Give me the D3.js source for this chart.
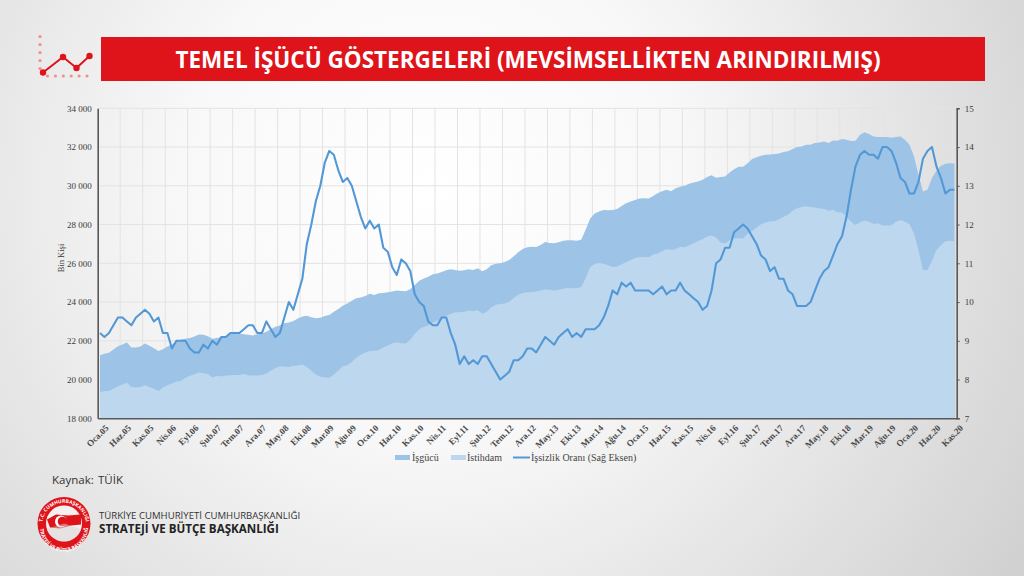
<!DOCTYPE html>
<html>
<head>
<meta charset="utf-8">
<script src="https://cdn.jsdelivr.net/npm/d3@7"></script>
<style>
  html, body { margin: 0; padding: 0; background: #e6e6e6; }
  svg { display: block; }
  .tick text { font-family: "Liberation Serif", serif; font-size: 9px; fill: #3a3a3a; }
</style>
</head>
<body>
<div id="chart"></div>
<script>
// ay kisaltmalari ve yillar
const aylar = ["Oca", "Şub", "Mar", "Nis", "May", "Haz", "Tem", "Ağu", "Eyl", "Eki", "Kas", "Ara"];
const yillar = ["05", "06", "07", "08", "09", "10", "11", "12", "13", "14", "15", "16", "17", "18", "19", "20"];

const xEtiketler = ["Oca.05", "Haz.05", "Kas.05", "Nis.06", "Eyl.06", "Şub.07", "Tem.07", "Ara.07", "May.08", "Eki.08",
  "Mar.09", "Ağu.09", "Oca.10", "Haz.10", "Kas.10", "Nis.11", "Eyl.11", "Şub.12", "Tem.12", "Ara.12",
  "May.13", "Eki.13", "Mar.14", "Ağu.14", "Oca.15", "Haz.15", "Kas.15", "Nis.16", "Eyl.16", "Şub.17",
  "Tem.17", "Ara.17", "May.18", "Eki.18", "Mar.19", "Ağu.19", "Oca.20", "Haz.20", "Kas.20"];

const solTikler = [18000, 20000, 22000, 24000, 26000, 28000, 30000, 32000, 34000];
const sagTikler = [7, 8, 9, 10, 11, 12, 13, 14, 15];

// bin kisi
const isgucu = [21260, 21330, 21380, 21550, 21720, 21810, 21910, 21655, 21655, 21700, 21860, 21740, 21620, 21470, 21570, 21700,
  21810, 21980, 22050, 22100, 22150, 22220, 22330, 22310, 22240, 22100, 22150, 22200, 22240, 22360, 22400, 22380,
  22340, 22310, 22280, 22340, 22380, 22465, 22590, 22720, 22790, 22900, 22950, 23020, 23150, 23260, 23290, 23220,
  23170, 23190, 23280, 23330, 23500, 23640, 23810, 23930, 24070, 24190, 24240, 24310, 24430, 24370, 24450, 24470,
  24500, 24540, 24590, 24570, 24555, 24660, 24880, 25100, 25210, 25310, 25430, 25480, 25550, 25640, 25690, 25655,
  25620, 25640, 25690, 25655, 25740, 25590, 25690, 25900, 25980, 26000, 26070, 26170, 26360, 26570, 26740, 26830,
  26860, 26845, 26950, 27100, 27050, 27030, 27090, 27160, 27190, 27190, 27160, 27220, 27730, 28310, 28570, 28680,
  28750, 28740, 28750, 28800, 28960, 29100, 29190, 29270, 29340, 29360, 29340, 29480, 29620, 29720, 29790, 29720,
  29880, 29950, 30000, 30100, 30170, 30220, 30310, 30450, 30550, 30410, 30450, 30480, 30690, 30860, 30980, 30980,
  31170, 31380, 31480, 31550, 31600, 31620, 31640, 31670, 31740, 31780, 31900, 32000, 32030, 32120, 32120, 32210,
  32240, 32290, 32210, 32340, 32330, 32410, 32380, 32310, 32330, 32640, 32760, 32670, 32550, 32520, 32520, 32520,
  32480, 32520, 32550, 32380, 32120, 31520, 30570, 29710, 29790, 30400, 30780, 31030, 31140, 31170, 31150];

const istihdam = [19330, 19410, 19410, 19530, 19650, 19740, 19840, 19620, 19590, 19620, 19710, 19620, 19530, 19410, 19590, 19710,
  19790, 19900, 19930, 20090, 20190, 20280, 20360, 20330, 20290, 20100, 20190, 20160, 20210, 20220, 20240, 20240,
  20290, 20220, 20210, 20210, 20240, 20310, 20450, 20600, 20670, 20670, 20650, 20710, 20720, 20780, 20650, 20450,
  20260, 20140, 20100, 20090, 20260, 20470, 20690, 20740, 20910, 21120, 21280, 21400, 21480, 21470, 21530, 21660,
  21760, 21880, 21930, 21880, 21860, 22050, 22360, 22600, 22720, 22790, 22950, 23050, 23140, 23290, 23400, 23470,
  23480, 23500, 23570, 23520, 23590, 23400, 23500, 23720, 23860, 23900, 23930, 24020, 24210, 24380, 24470, 24500,
  24520, 24550, 24590, 24650, 24640, 24600, 24640, 24690, 24720, 24710, 24710, 24780, 25240, 25810, 25970, 26020,
  25980, 25900, 25810, 25830, 25950, 26070, 26170, 26280, 26330, 26330, 26310, 26450, 26500, 26620, 26740, 26690,
  26740, 26860, 26830, 26930, 27030, 27150, 27240, 27380, 27430, 27330, 27070, 27020, 27190, 27280, 27290, 27280,
  27530, 27670, 27840, 28020, 28100, 28170, 28170, 28280, 28400, 28500, 28710, 28840, 28910, 28950, 28910, 28880,
  28830, 28810, 28710, 28760, 28640, 28620, 28410, 28150, 27980, 28120, 28210, 28150, 28030, 28070, 27950, 27950,
  27970, 28150, 28240, 28140, 28020, 27550, 26690, 25660, 25660, 26120, 26690, 26950, 27140, 27160, 27140];

// yuzde
const issizlik = [9.2, 9.1, 9.2, 9.4, 9.6, 9.6, 9.5, 9.4, 9.6, 9.7, 9.8, 9.7, 9.5, 9.6, 9.2, 9.2,
  8.8, 9.0, 9.0, 9.0, 8.8, 8.7, 8.7, 8.9, 8.8, 9.0, 8.9, 9.1, 9.1, 9.2, 9.2, 9.2,
  9.3, 9.4, 9.4, 9.2, 9.2, 9.5, 9.3, 9.1, 9.2, 9.6, 10.0, 9.8, 10.2, 10.6, 11.5, 12.0,
  12.6, 13.0, 13.6, 13.9, 13.8, 13.4, 13.1, 13.2, 13.0, 12.6, 12.2, 11.9, 12.1, 11.9, 12.0, 11.4,
  11.3, 10.9, 10.7, 11.1, 11.0, 10.8, 10.2, 10.0, 9.9, 9.5, 9.4, 9.4, 9.6, 9.6, 9.2, 8.9,
  8.4, 8.6, 8.4, 8.5, 8.4, 8.6, 8.6, 8.4, 8.2, 8.0, 8.1, 8.2, 8.5, 8.5, 8.6, 8.8,
  8.8, 8.7, 8.9, 9.1, 9.0, 8.9, 9.1, 9.2, 9.3, 9.1, 9.2, 9.1, 9.3, 9.3, 9.3, 9.4,
  9.6, 9.9, 10.3, 10.2, 10.5, 10.4, 10.5, 10.3, 10.3, 10.3, 10.3, 10.2, 10.3, 10.4, 10.2, 10.3,
  10.3, 10.5, 10.3, 10.2, 10.1, 10.0, 9.8, 9.9, 10.3, 11.0, 11.1, 11.4, 11.4, 11.8, 11.9, 12.0,
  11.9, 11.7, 11.5, 11.2, 11.1, 10.8, 10.9, 10.6, 10.6, 10.3, 10.2, 9.9, 9.9, 9.9, 10.0, 10.3,
  10.6, 10.8, 10.9, 11.2, 11.5, 11.7, 12.2, 12.9, 13.5, 13.8, 13.9, 13.8, 13.8, 13.7, 14.0, 14.0,
  13.9, 13.6, 13.2, 13.1, 12.8, 12.8, 13.1, 13.7, 13.9, 14.0, 13.5, 13.2, 12.8, 12.9, 12.9];

const kategoriler = [];
yillar.forEach((yil) => aylar.forEach((ay) => kategoriler.push(ay + "." + yil)));
kategoriler.length = isgucu.length;   // Kas.20 de bitiyor

const W = 1024, H = 576;
const plot = { left: 97.7, right: 956.7, top: 108.3, bottom: 418.3 };

const svg = d3.select("#chart").append("svg").attr("width", W).attr("height", H);

/*------------------ arka plan ------------------*/
const defs = svg.append("defs");
const bg = defs.append("radialGradient").attr("id", "bg")
  .attr("gradientUnits", "userSpaceOnUse")
  .attr("cx", 430).attr("cy", 190).attr("r", 720);
bg.append("stop").attr("offset", "0%").attr("stop-color", "#ffffff");
bg.append("stop").attr("offset", "35%").attr("stop-color", "#f8f8f8");
bg.append("stop").attr("offset", "100%").attr("stop-color", "#cfcfcf");
svg.append("rect").attr("width", W).attr("height", H).attr("fill", "url(#bg)");

/*------------------ scales ------------------*/
const x = d3.scaleBand().domain(kategoriler).range([plot.left, plot.right]);
const yL = d3.scaleLinear().domain([18000, 34000]).range([plot.bottom, plot.top]);
const yR = d3.scaleLinear().domain([7, 15]).range([plot.bottom, plot.top]);

/*------------------ grid ------------------*/
const grid = svg.append("g").attr("stroke", "#e3e3e3").attr("stroke-width", 1);
grid.selectAll("line.h").data(solTikler.slice(1)).join("line").attr("class", "h")
  .attr("x1", plot.left).attr("x2", plot.right)
  .attr("y1", (d) => yL(d)).attr("y2", (d) => yL(d));
grid.selectAll("line.v").data(xEtiketler.slice(1)).join("line").attr("class", "v")
  .attr("x1", (d) => x(d)).attr("x2", (d) => x(d))
  .attr("y1", plot.top).attr("y2", plot.bottom);

/*------------------ alanlar ve cizgi ------------------*/
const alan = d3.area()
  .x((d, i) => x(kategoriler[i]) + x.bandwidth() / 2)
  .y0(plot.bottom)
  .y1((d) => yL(d));

svg.append("path").datum(isgucu).attr("fill", "#9dc3e6").attr("d", alan);
svg.append("path").datum(istihdam).attr("fill", "#bdd7ee").attr("d", alan);

const cizgi = d3.line()
  .x((d, i) => x(kategoriler[i]) + x.bandwidth() / 2)
  .y((d) => yR(d));

svg.append("path").datum(issizlik)
  .attr("fill", "none").attr("stroke", "#5398d6").attr("stroke-width", 2.1)
  .attr("stroke-linejoin", "round").attr("d", cizgi);

/*------------------ eksenler ------------------*/
const solEksen = d3.axisLeft(yL).tickValues(solTikler).tickSize(0).tickPadding(6)
  .tickFormat((d) => d3.format(",")(d).replace(",", " "));
const sagEksen = d3.axisRight(yR).tickValues(sagTikler).tickSize(3).tickPadding(5);
const altEksen = d3.axisBottom(x).tickValues(xEtiketler).tickSize(0);

const gL = svg.append("g").attr("transform", `translate(${plot.left},0)`).call(solEksen);
const gR = svg.append("g").attr("transform", `translate(${plot.right},0)`).call(sagEksen);
const gB = svg.append("g").attr("transform", `translate(0,${plot.bottom})`).call(altEksen);

gL.select(".domain").attr("stroke", "#595959").attr("stroke-width", 1.6);
gR.select(".domain").attr("stroke", "#595959").attr("stroke-width", 1.6);
gR.selectAll(".tick line").attr("stroke", "#595959");
gB.select(".domain").attr("stroke", "#595959").attr("stroke-width", 1.6);
gB.selectAll(".tick text")
  .attr("text-anchor", "end")
  .attr("transform", "translate(4,5) rotate(-45)")
  .attr("dy", "0.5em")
  .style("font-weight", "bold")
  .style("fill", "#4a4a4a");

svg.append("text")
  .attr("transform", "translate(64,258) rotate(-90)")
  .attr("text-anchor", "middle")
  .attr("font-family", "Liberation Serif, serif").attr("font-size", 8.5).attr("fill", "#3a3a3a")
  .text("Bin Kişi");

/*------------------ legend ------------------*/
const legend = svg.append("g").attr("font-family", "Liberation Serif, serif")
  .attr("font-size", 10).attr("fill", "#444");
legend.append("rect").attr("x", 395).attr("y", 455).attr("width", 15).attr("height", 5).attr("fill", "#9dc3e6");
legend.append("text").attr("x", 412).attr("y", 461).text("İşgücü");
legend.append("rect").attr("x", 451).attr("y", 455).attr("width", 15).attr("height", 5).attr("fill", "#bdd7ee");
legend.append("text").attr("x", 467).attr("y", 461).text("İstihdam");
legend.append("line").attr("x1", 513).attr("x2", 530).attr("y1", 457.5).attr("y2", 457.5)
  .attr("stroke", "#5398d6").attr("stroke-width", 2);
legend.append("text").attr("x", 531).attr("y", 461).text("İşsizlik Oranı (Sağ Eksen)");

/*------------------ baslik ------------------*/
svg.append("rect").attr("x", 101).attr("y", 37).attr("width", 884).attr("height", 44).attr("fill", "#df131a");
svg.append("text").attr("x", 528).attr("y", 68).attr("text-anchor", "middle")
  .attr("font-family", "Open Sans, sans-serif").attr("font-weight", 700).attr("font-size", 22.5)
  .attr("fill", "#fff")
  .text("TEMEL İŞÜCÜ GÖSTERGELERİ (MEVSİMSELLİKTEN ARINDIRILMIŞ)");

/*------------------ ikon ------------------*/
const ikon = svg.append("g");
ikon.selectAll("circle.vd").data([0, 1, 2, 3, 4]).join("circle").attr("class", "vd")
  .attr("cx", 40).attr("cy", (d) => 36.5 + d * 8).attr("r", 1.6).attr("fill", "#ee8f92");
ikon.selectAll("circle.hd").data([0, 1, 2, 3, 4, 5]).join("circle").attr("class", "hd")
  .attr("cx", (d) => 47.5 + d * 7.9).attr("cy", 76).attr("r", 1.6).attr("fill", "#ee8f92");
const ikonNoktalar = [[43, 72.5], [63, 57], [76.5, 68], [89.5, 56]];
ikon.append("path").attr("d", d3.line()(ikonNoktalar)).attr("fill", "none")
  .attr("stroke", "#df131a").attr("stroke-width", 2);
ikon.selectAll("circle.pt").data(ikonNoktalar).join("circle").attr("class", "pt")
  .attr("cx", (d) => d[0]).attr("cy", (d) => d[1]).attr("r", 3.2).attr("fill", "#df131a");

/*------------------ kaynak ve logo ------------------*/
const sans = "Open Sans, sans-serif";
svg.append("text").attr("x", 52).attr("y", 484).attr("font-family", sans).attr("font-size", 11.5)
  .attr("fill", "#333").text("Kaynak:");
svg.append("text").attr("x", 98).attr("y", 484).attr("font-family", sans).attr("font-size", 11.5)
  .attr("fill", "#333").text("TÜİK");

const logo = svg.append("g").attr("transform", "translate(64,523.5)");
logo.append("circle").attr("r", 26.5).attr("fill", "#df131a");
logo.append("circle").attr("r", 18).attr("fill", "#f4f0f0");
logo.append("path").attr("d", "M-17,-4 L-8,-9 L4,-8 L17,-9 L17,1 L7,2 L-4,5 L-14,4 Z").attr("fill", "#df131a");
logo.append("circle").attr("cx", -3).attr("cy", -2).attr("r", 6).attr("fill", "#fff");
logo.append("circle").attr("cx", -1.5).attr("cy", -2).attr("r", 4.8).attr("fill", "#df131a");
logo.append("path").attr("d", d3.arc()({ innerRadius: 0, outerRadius: 18, startAngle: 1.9, endAngle: 4.4 }))
  .attr("fill", "#d9d3d3").attr("opacity", 0.5);
defs.append("path").attr("id", "logoUst").attr("d", "M-21.5,6 A22,22 0 1 1 21.5,6");
defs.append("path").attr("id", "logoAlt").attr("d", "M-24,4 A24,24 0 0 0 24,4");
logo.append("text").attr("font-family", sans).attr("font-size", 5).attr("font-weight", 700).attr("fill", "#fff")
  .append("textPath").attr("href", "#logoUst").attr("startOffset", "50%").attr("text-anchor", "middle")
  .text("T.C. CUMHURBAŞKANLIĞI");
logo.append("text").attr("font-family", sans).attr("font-size", 5).attr("font-weight", 700).attr("fill", "#fff")
  .append("textPath").attr("href", "#logoAlt").attr("startOffset", "50%").attr("text-anchor", "middle")
  .text("STRATEJİ VE BÜTÇE BAŞKANLIĞI");

svg.append("text").attr("x", 99).attr("y", 519).attr("font-family", sans).attr("font-size", 9.6)
  .attr("fill", "#333").text("TÜRKİYE CUMHURİYETİ CUMHURBAŞKANLIĞI");
svg.append("text").attr("x", 99).attr("y", 533).attr("font-family", sans).attr("font-size", 11.6)
  .attr("font-weight", 700).attr("fill", "#222").text("STRATEJİ VE BÜTÇE BAŞKANLIĞI");
</script>
</body>
</html>
